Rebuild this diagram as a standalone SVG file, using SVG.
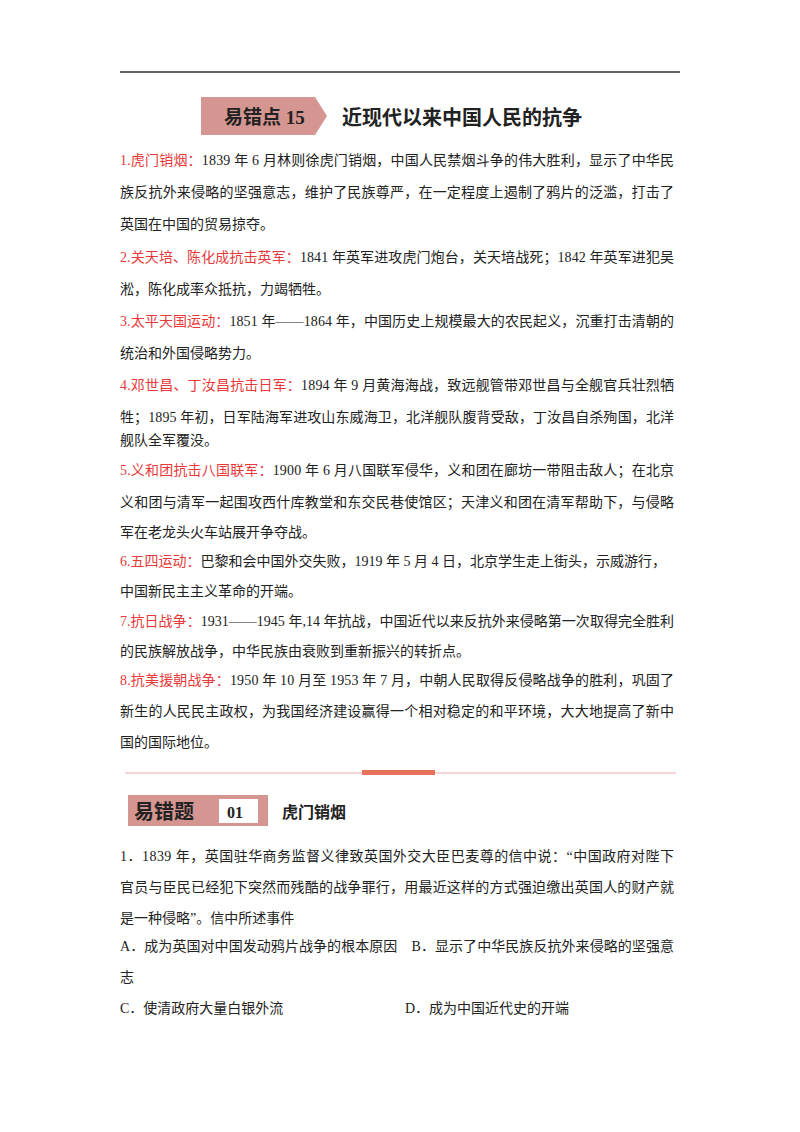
<svg xmlns="http://www.w3.org/2000/svg" width="800" height="1132" viewBox="0 0 800 1132">
<style>
text{font-family:"Liberation Serif","Noto Sans CJK SC",serif;font-size:14px;fill:#222}
.r{fill:#e8393a}
.h{font-family:"Liberation Serif","Noto Sans CJK SC",serif;font-weight:bold}
</style>
<rect width="800" height="1132" fill="#fff"/>
<line x1="120" y1="72" x2="680" y2="72" stroke="#333" stroke-width="1.5"/>
<g id="header">
<polygon points="201,97 315,97 327,116 315,135 201,135" fill="#d59590"/>
<text class="h" x="224" y="124" style="font-size:19px">易错点 15</text>
<text class="h" x="342" y="125" style="font-size:20px">近现代以来中国人民的抗争</text>
</g>
<g id="body">
<text x="120" y="165" textLength="554" lengthAdjust="spacing"><tspan class="r">1.虎门销烟：</tspan>1839 年 6 月林则徐虎门销烟，中国人民禁烟斗争的伟大胜利，显示了中华民</text>
<text x="120" y="197" textLength="554" lengthAdjust="spacing">族反抗外来侵略的坚强意志，维护了民族尊严，在一定程度上遏制了鸦片的泛滥，打击了</text>
<text x="120" y="229">英国在中国的贸易掠夺。</text>
<text x="120" y="262" textLength="554" lengthAdjust="spacing"><tspan class="r">2.关天培、陈化成抗击英军：</tspan>1841 年英军进攻虎门炮台，关天培战死；1842 年英军进犯吴</text>
<text x="120" y="294">淞，陈化成率众抵抗，力竭牺牲。</text>
<text x="120" y="326" textLength="554" lengthAdjust="spacing"><tspan class="r">3.太平天国运动：</tspan>1851 年——1864 年，中国历史上规模最大的农民起义，沉重打击清朝的</text>
<text x="120" y="358">统治和外国侵略势力。</text>
<text x="120" y="390" textLength="554" lengthAdjust="spacing"><tspan class="r">4.邓世昌、丁汝昌抗击日军：</tspan>1894 年 9 月黄海海战，致远舰管带邓世昌与全舰官兵壮烈牺</text>
<text x="120" y="422" textLength="554" lengthAdjust="spacing">牲；1895 年初，日军陆海军进攻山东威海卫，北洋舰队腹背受敌，丁汝昌自杀殉国，北洋</text>
<text x="120" y="445">舰队全军覆没。</text>
<text x="120" y="475" textLength="554" lengthAdjust="spacing"><tspan class="r">5.义和团抗击八国联军：</tspan>1900 年 6 月八国联军侵华，义和团在廊坊一带阻击敌人；在北京</text>
<text x="120" y="507" textLength="554" lengthAdjust="spacing">义和团与清军一起围攻西什库教堂和东交民巷使馆区；天津义和团在清军帮助下，与侵略</text>
<text x="120" y="537">军在老龙头火车站展开争夺战。</text>
<text x="120" y="566"><tspan class="r">6.五四运动：</tspan>巴黎和会中国外交失败，1919 年 5 月 4 日，北京学生走上街头，示威游行，</text>
<text x="120" y="596">中国新民主主义革命的开端。</text>
<text x="120" y="626" textLength="554" lengthAdjust="spacing"><tspan class="r">7.抗日战争：</tspan>1931——1945 年,14 年抗战，中国近代以来反抗外来侵略第一次取得完全胜利</text>
<text x="120" y="656">的民族解放战争，中华民族由衰败到重新振兴的转折点。</text>
<text x="120" y="685" textLength="554" lengthAdjust="spacing"><tspan class="r">8.抗美援朝战争：</tspan>1950 年 10 月至 1953 年 7 月，中朝人民取得反侵略战争的胜利，巩固了</text>
<text x="120" y="716" textLength="554" lengthAdjust="spacing">新生的人民民主政权，为我国经济建设赢得一个相对稳定的和平环境，大大地提高了新中</text>
<text x="120" y="747">国的国际地位。</text>
</g>
<g id="separator">
<line x1="125" y1="773" x2="676" y2="773" stroke="#e9b0ab" stroke-width="1"/>
<rect x="362" y="770" width="73" height="5" fill="#e8735c"/>
</g>
<g id="q-header">
<rect x="128" y="795" width="140" height="31" fill="#d59590"/>
<rect x="219" y="799" width="39" height="24" fill="#fff"/>
<text class="h" x="134" y="819" style="font-size:20px;font-family:'Noto Sans CJK SC',serif">易错题</text>
<text class="h" x="227" y="818" style="font-size:16px">01</text>
<text class="h" x="282" y="818" style="font-size:16px">虎门销烟</text>
</g>
<g id="question">
<text x="120" y="861" textLength="554" lengthAdjust="spacing">1．1839 年，英国驻华商务监督义律致英国外交大臣巴麦尊的信中说：“中国政府对陛下</text>
<text x="120" y="892" textLength="554" lengthAdjust="spacing">官员与臣民已经犯下突然而残酷的战争罪行，用最近这样的方式强迫缴出英国人的财产就</text>
<text x="120" y="923">是一种侵略”。信中所述事件</text>
<text x="120" y="951" textLength="554" lengthAdjust="spacing">A．成为英国对中国发动鸦片战争的根本原因　B．显示了中华民族反抗外来侵略的坚强意</text>
<text x="120" y="982">志</text>
<text x="120" y="1013">C．使清政府大量白银外流</text>
<text x="405" y="1013">D．成为中国近代史的开端</text>
</g>
</svg>
